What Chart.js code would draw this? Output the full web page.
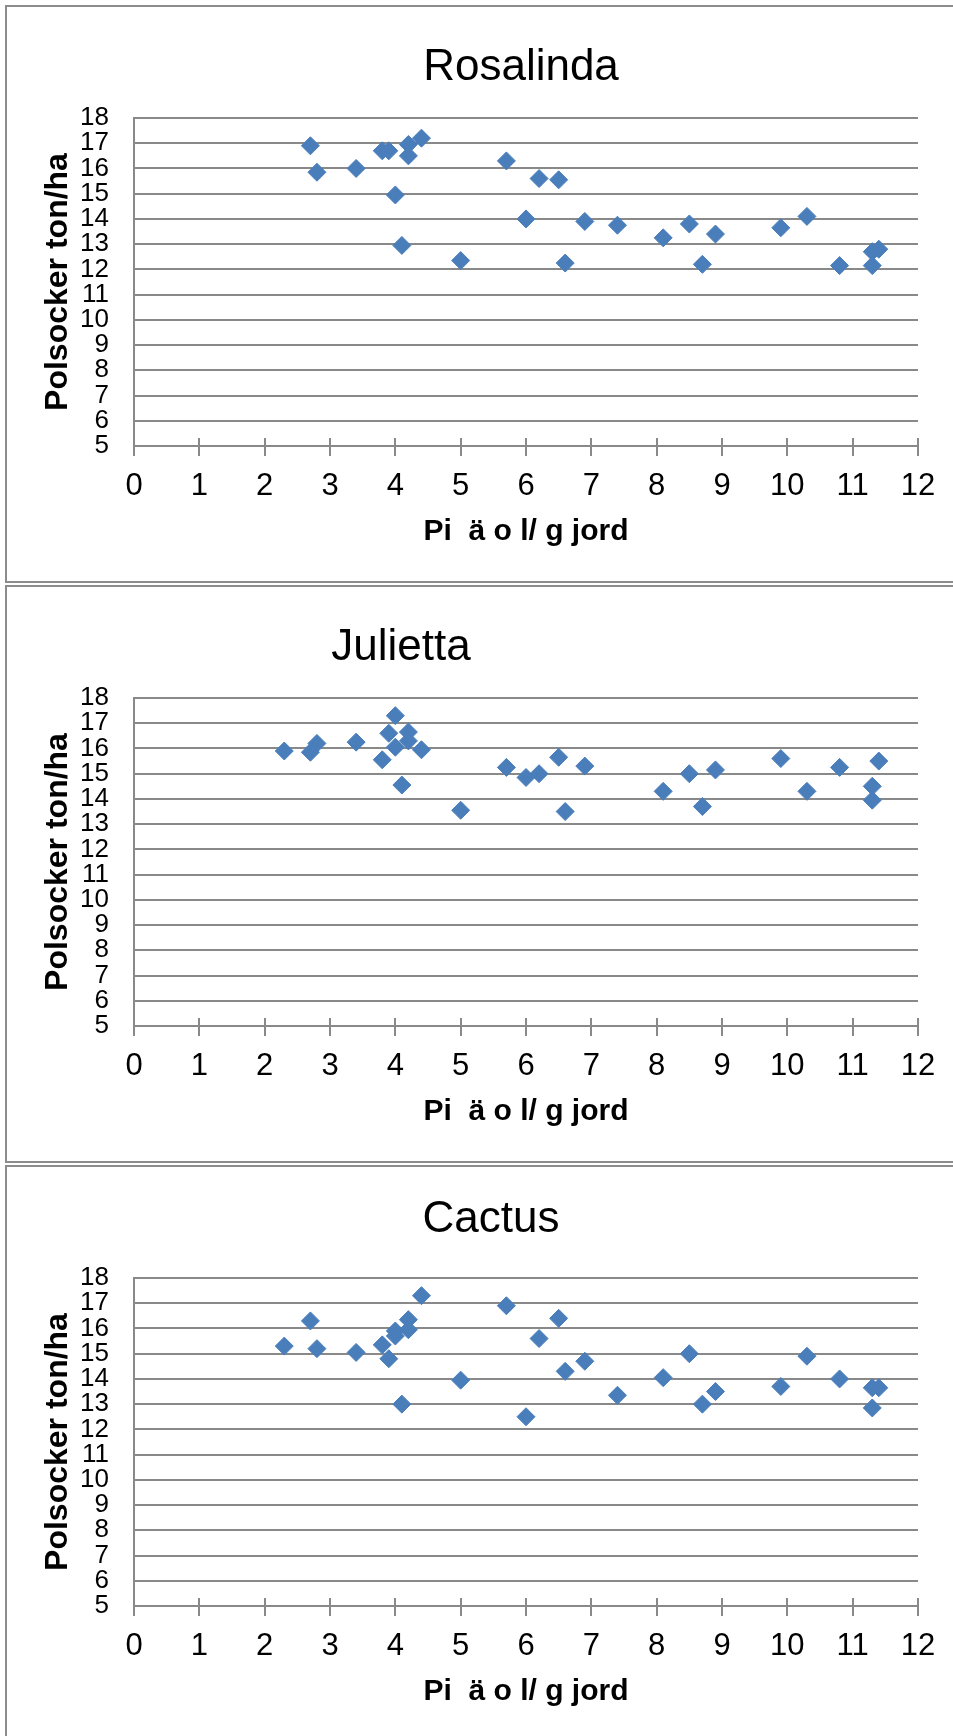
<!DOCTYPE html>
<html lang="sv">
<head>
    <meta charset="UTF-8">
    <title>Polsocker ton/ha</title>
    <script src="https://cdn.jsdelivr.net/npm/chart.js"></script>
    <style>
        html, body {
            margin: 0;
            padding: 0;
            width: 953px;
            height: 1736px;
            background: #ffffff;
            overflow: hidden;
            position: relative;
        }
        .panel {
            position: absolute;
            left: 5px;
            width: 1000px;
            box-sizing: border-box;
            border: 2px solid #8c8c8c;
        }
        canvas {
            position: absolute;
            left: 0;
        }
    </style>
</head>
<body>
    <div class="panel" style="top:5px;height:578px"></div>
    <div class="panel" style="top:585px;height:578px"></div>
    <div class="panel" style="top:1165px;height:620px"></div>
    <canvas id="chartRosalinda" width="953" height="580" style="top:0"></canvas>
    <canvas id="chartJulietta" width="953" height="580" style="top:580px"></canvas>
    <canvas id="chartCactus" width="953" height="580" style="top:1160px"></canvas>
    <script>
        const rosalindaX = [2.7, 2.8, 3.4, 3.8, 3.9, 4.0, 4.1, 4.2, 4.2, 4.4, 5.0, 5.7, 6.0, 6.2, 6.5, 6.6, 6.9, 7.4, 8.1, 8.5, 8.7, 8.9, 9.9, 10.3, 10.8, 11.3, 11.3, 11.4];
        const rosalindaY = [16.9, 15.85, 16.0, 16.7, 16.7, 14.95, 12.95, 16.95, 16.5, 17.2, 12.35, 16.3, 14.0, 15.6, 15.55, 12.25, 13.9, 13.75, 13.25, 13.8, 12.2, 13.4, 13.65, 14.1, 12.15, 12.7, 12.15, 12.8];

        const juliettaX = [2.3, 2.7, 2.8, 3.4, 3.8, 3.9, 4.0, 4.0, 4.1, 4.2, 4.2, 4.4, 5.0, 5.7, 6.0, 6.2, 6.5, 6.6, 6.9, 8.1, 8.5, 8.7, 8.9, 9.9, 10.3, 10.8, 11.3, 11.3, 11.4];
        const juliettaY = [15.9, 15.85, 16.2, 16.25, 15.55, 16.6, 17.3, 16.05, 14.55, 16.65, 16.3, 15.95, 13.55, 15.25, 14.85, 15.0, 15.65, 13.5, 15.3, 14.3, 15.0, 13.7, 15.15, 15.6, 14.3, 15.25, 14.5, 13.95, 15.5];

        const cactusX = [2.3, 2.7, 2.8, 3.4, 3.8, 3.9, 4.0, 4.0, 4.1, 4.2, 4.2, 4.4, 5.0, 5.7, 6.0, 6.2, 6.5, 6.6, 6.9, 7.4, 8.1, 8.5, 8.7, 8.9, 9.9, 10.3, 10.8, 11.3, 11.3, 11.4];
        const cactusY = [15.3, 16.3, 15.2, 15.05, 15.35, 14.8, 15.9, 15.7, 13.0, 16.35, 15.95, 17.3, 13.95, 16.9, 12.5, 15.6, 16.4, 14.3, 14.7, 13.35, 14.05, 15.0, 13.0, 13.5, 13.7, 14.9, 14.0, 13.65, 12.85, 13.65];

        const xAxisTitle = 'Pi  ä o l/ g jord';
        const yAxisTitle = 'Polsocker ton/ha';

        const gridColor = '#898989';
        const markerColor = '#4A7EBB';
        const fontFamily = '"Liberation Sans", Arial, sans-serif';

        // title text drawn at its own spot in each panel
        const panelTitle = {
            id: 'panelTitle',
            afterDraw(chart, args, opts) {
                const ctx = chart.ctx;
                ctx.save();
                ctx.fillStyle = '#000';
                ctx.font = '44px ' + fontFamily;
                ctx.textAlign = 'center';
                ctx.textBaseline = 'alphabetic';
                ctx.fillText(opts.text, opts.x, opts.y);
                ctx.restore();
            }
        };

        // x tick marks cross the axis line
        const crossTicks = {
            id: 'crossTicks',
            afterDraw(chart) {
                const xs = chart.scales.x;
                const ctx = chart.ctx;
                const bottom = Math.round(chart.chartArea.bottom);
                ctx.save();
                ctx.strokeStyle = gridColor;
                ctx.lineWidth = 2;
                xs.ticks.forEach((t, i) => {
                    const px = Math.round(xs.getPixelForTick(i));
                    ctx.beginPath();
                    ctx.moveTo(px, bottom - 8);
                    ctx.lineTo(px, bottom);
                    ctx.stroke();
                });
                ctx.restore();
            }
        };

        function makeChart(id, title, titleX, titleY, xs, ys) {
            const points = xs.map((x, i) => ({ x: x, y: ys[i] }));
            return new Chart(document.getElementById(id), {
                type: 'scatter',
                data: {
                    datasets: [{
                        data: points,
                        pointStyle: 'rectRot',
                        pointRadius: 9,
                        pointBorderWidth: 1,
                        backgroundColor: markerColor,
                        borderColor: markerColor
                    }]
                },
                options: {
                    responsive: false,
                    animation: false,
                    layout: {
                        padding: { top: 118, right: 35, bottom: 0, left: 0 }
                    },
                    plugins: {
                        legend: { display: false },
                        tooltip: { enabled: false },
                        title: { display: false },
                        panelTitle: { text: title, x: titleX, y: titleY }
                    },
                    scales: {
                        x: {
                            type: 'linear',
                            min: 0,
                            max: 12,
                            afterFit: s => { s.height = 134; },
                            ticks: {
                                stepSize: 1,
                                color: '#000',
                                padding: 12,
                                font: { family: fontFamily, size: 31, lineHeight: 1.2 }
                            },
                            grid: {
                                drawOnChartArea: false,
                                drawTicks: true,
                                tickLength: 10,
                                color: gridColor,
                                lineWidth: 2
                            },
                            border: { display: true, color: gridColor, width: 2 },
                            title: {
                                display: true,
                                text: xAxisTitle,
                                color: '#000',
                                padding: { top: 0, bottom: 30 },
                                font: { family: fontFamily, size: 30, weight: 'bold', lineHeight: 1.2 }
                            }
                        },
                        y: {
                            min: 5,
                            max: 18,
                            afterFit: s => { s.width = 134; },
                            ticks: {
                                stepSize: 1,
                                autoSkip: false,
                                color: '#000',
                                padding: 25,
                                font: { family: fontFamily, size: 26, lineHeight: 1.0 }
                            },
                            grid: {
                                drawTicks: false,
                                color: gridColor,
                                lineWidth: 2
                            },
                            border: { display: true, color: gridColor, width: 2 },
                            title: {
                                display: true,
                                text: yAxisTitle,
                                color: '#000',
                                padding: { top: 39, bottom: 0 },
                                font: { family: fontFamily, size: 32, weight: 'bold', lineHeight: 1.2 }
                            }
                        }
                    }
                },
                plugins: [panelTitle, crossTicks]
            });
        }

        makeChart('chartRosalinda', 'Rosalinda', 521, 80, rosalindaX, rosalindaY);
        makeChart('chartJulietta', 'Julietta', 401, 80, juliettaX, juliettaY);
        makeChart('chartCactus', 'Cactus', 491, 72, cactusX, cactusY);
    </script>
</body>
</html>
